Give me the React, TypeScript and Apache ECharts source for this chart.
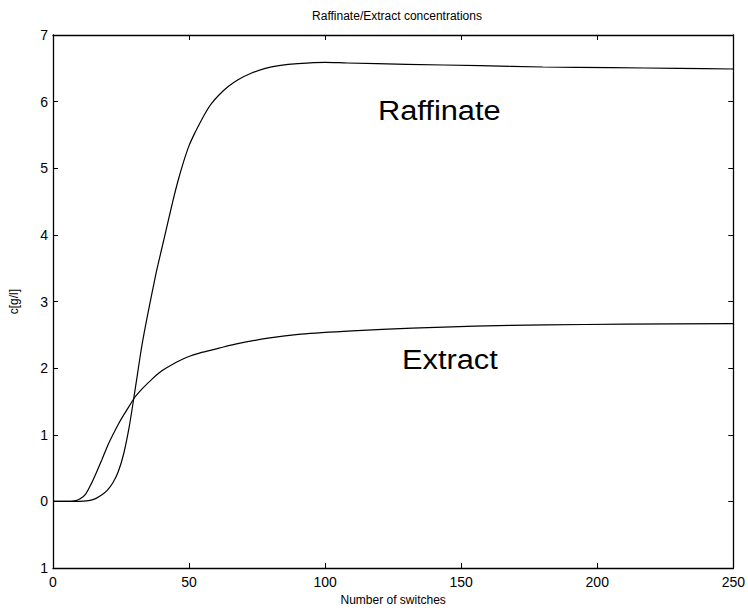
import React, { useEffect, useRef } from "react";
import * as echarts from "echarts";

// Simulated moving-bed concentrations versus number of port switches
const raffinateX = [0, 5, 9, 11, 14, 16, 18, 20, 22, 24, 26, 28, 29.5, 31, 32.5, 34, 36, 38, 40, 42, 44, 46, 48, 50, 52, 54, 56, 58, 61, 64.5, 68, 73, 78, 83, 90, 100, 108, 130, 157, 180, 205, 230, 250];
const raffinateY = [0, 0, 0, 0.005, 0.02, 0.05, 0.1, 0.17, 0.28, 0.45, 0.72, 1.12, 1.5, 1.9, 2.3, 2.64, 3.05, 3.45, 3.8, 4.15, 4.5, 4.82, 5.1, 5.34, 5.52, 5.68, 5.83, 5.96, 6.1, 6.23, 6.33, 6.43, 6.5, 6.54, 6.57, 6.59, 6.58, 6.56, 6.54, 6.52, 6.51, 6.5, 6.49];

const extractX = [0, 5, 8, 10, 12, 14, 16, 18, 20, 22, 24, 26, 28, 30, 33, 36.5, 40, 44, 49, 55, 61, 67, 79, 91, 110, 132, 155, 181, 210, 250];
const extractY = [0, 0, 0.01, 0.04, 0.11, 0.26, 0.44, 0.63, 0.83, 1.0, 1.16, 1.3, 1.43, 1.56, 1.7, 1.84, 1.96, 2.06, 2.16, 2.24, 2.3, 2.36, 2.45, 2.51, 2.56, 2.6, 2.63, 2.65, 2.66, 2.67];

const yTickValues = [-1, 0, 1, 2, 3, 4, 5, 6, 7];
const yTickLabels = ["1", "0", "1", "2", "3", "4", "5", "6", "7"];

const titleText = "Raffinate/Extract concentrations";
const xName = "Number of switches";
const yName = "c[g/l]";

const FONT = "'Liberation Sans', Arial, Helvetica, sans-serif";

const zip = (xs: number[], ys: number[]) => xs.map((x, i) => [x, ys[i]]);

export default function App() {
  const ref = useRef<HTMLDivElement>(null);

  useEffect(() => {
    if (!ref.current) return;
    const chart = echarts.init(ref.current, null, { renderer: "svg" });

    const boxAxisLine = { show: true, onZero: false, lineStyle: { color: "#000", width: 1.3 } };
    const innerTicks = { show: true, inside: true, length: 5, lineStyle: { color: "#000", width: 1 } };

    chart.setOption({
      animation: false,
      backgroundColor: "#fff",
      title: {
        text: titleText,
        left: 392,
        textAlign: "center",
        top: 5,
        textStyle: { fontFamily: FONT, fontSize: 12, fontWeight: "normal", color: "#000" },
      },
      grid: { left: 50, right: 13, top: 35, bottom: 39, containLabel: false },
      xAxis: [
        {
          type: "value",
          position: "bottom",
          min: 0,
          max: 250,
          interval: 50,
          name: xName,
          nameLocation: "middle",
          nameGap: 23,
          nameTextStyle: { fontFamily: FONT, fontSize: 12, color: "#000" },
          axisLine: boxAxisLine,
          axisTick: innerTicks,
          axisLabel: { fontFamily: FONT, fontSize: 14, color: "#000", margin: 7 },
          splitLine: { show: false },
        },
        {
          type: "value",
          position: "top",
          min: 0,
          max: 250,
          interval: 50,
          axisLine: boxAxisLine,
          axisTick: innerTicks,
          axisLabel: { show: false },
          splitLine: { show: false },
        },
      ],
      yAxis: [
        {
          type: "value",
          position: "left",
          min: -1,
          max: 7,
          interval: 1,
          name: yName,
          nameLocation: "middle",
          nameGap: 33,
          nameRotate: 90,
          nameTextStyle: { fontFamily: FONT, fontSize: 12, color: "#000" },
          axisLine: boxAxisLine,
          axisTick: innerTicks,
          axisLabel: {
            fontFamily: FONT,
            fontSize: 14,
            color: "#000",
            margin: 5,
            formatter: (v: number) => {
              const i = yTickValues.indexOf(v);
              return i >= 0 ? yTickLabels[i] : String(v);
            },
          },
          splitLine: { show: false },
        },
        {
          type: "value",
          position: "right",
          min: -1,
          max: 7,
          interval: 1,
          axisLine: boxAxisLine,
          axisTick: innerTicks,
          axisLabel: { show: false },
          splitLine: { show: false },
        },
      ],
      series: [
        {
          name: "Raffinate",
          type: "line",
          data: zip(raffinateX, raffinateY),
          showSymbol: false,
          smooth: 0.25,
          lineStyle: { color: "#000", width: 1.2 },
        },
        {
          name: "Extract",
          type: "line",
          data: zip(extractX, extractY),
          showSymbol: false,
          smooth: 0.25,
          lineStyle: { color: "#000", width: 1.2 },
        },
      ],
      graphic: [
        {
          type: "text",
          x: 378,
          y: 96,
          scaleX: 1.1,
          style: { text: "Raffinate", font: `28px ${FONT}`, fill: "#000" },
        },
        {
          type: "text",
          x: 402,
          y: 345,
          scaleX: 1.1,
          style: { text: "Extract", font: `28px ${FONT}`, fill: "#000" },
        },
      ],
    });

    return () => chart.dispose();
  }, []);

  return (
    <div
      ref={ref}
      style={{ position: "absolute", left: 0, top: 0, width: 748, height: 611 }}
    />
  );
}
